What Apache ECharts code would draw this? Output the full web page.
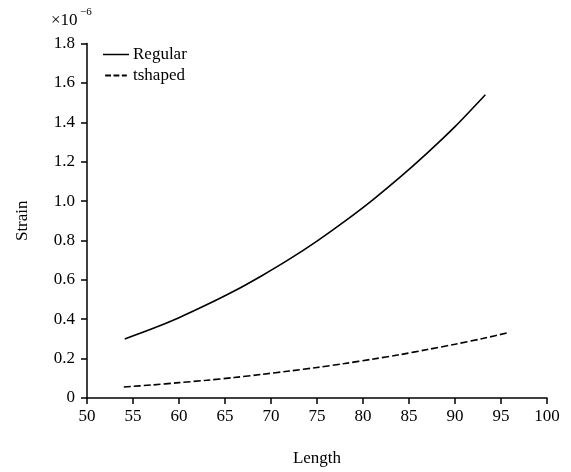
<!DOCTYPE html>
<html>
<head>
<meta charset="utf-8">
<script src="https://cdn.jsdelivr.net/npm/echarts@6/dist/echarts.min.js"></script>
<style>html,body{margin:0;padding:0;background:#fff;}#c{width:571px;height:472px;}</style>
</head>
<body>
<div id="c"></div>
<script>
var seriesNames = ['Regular', 'tshaped'];
var regularX = [54.1, 57, 60, 63, 66, 69, 72, 75, 78, 81, 84, 87, 90, 93.3];
var regularY = [0.300, 0.350, 0.408, 0.473, 0.543, 0.621, 0.705, 0.797, 0.897, 1.004, 1.120, 1.245, 1.378, 1.540];
var tshapedX = [54, 57, 60, 63, 66, 69, 72, 75, 78, 81, 84, 87, 90, 93, 95.9];
var tshapedY = [0.056, 0.066, 0.078, 0.090, 0.104, 0.120, 0.137, 0.155, 0.175, 0.197, 0.220, 0.246, 0.273, 0.302, 0.333];
var xTicks = {min: 50, max: 100, step: 5};
var yTicks = {min: 0, max: 1.8, step: 0.2};

function pairs(xs, ys) { return xs.map(function (x, i) { return [x, ys[i]]; }); }

var font = 'Liberation Serif';
var chart = echarts.init(document.getElementById('c'));
chart.setOption({
  animation: false,
  backgroundColor: '#fff',
  textStyle: {fontFamily: font},
  grid: {left: 87, right: 24, top: 43.5, bottom: 72, containLabel: false},
  legend: {
    orient: 'vertical', left: 98, top: 41, itemWidth: 26, itemHeight: 2, itemGap: 4,
    data: [
      {name: seriesNames[0], icon: 'path://M0 0H26V1.5H0Z'},
      {name: seriesNames[1], icon: 'path://M0 0H7V2.4H0Z M10 0H17V2.4H10Z M20 0H26V2.4H20Z'}
    ],
    itemStyle: {color: '#000'},
    textStyle: {fontFamily: font, fontSize: 17, color: '#000', padding: [0, 0, 0, -1]}
  },
  xAxis: {
    type: 'value', min: xTicks.min, max: xTicks.max, interval: xTicks.step,
    name: 'Length', nameLocation: 'middle', nameGap: 52,
    nameTextStyle: {fontFamily: font, fontSize: 17, color: '#000'},
    axisLine: {show: true, lineStyle: {color: '#000', width: 1.5}},
    axisTick: {show: true, inside: false, length: 6, lineStyle: {color: '#000', width: 1.5}},
    axisLabel: {fontFamily: font, fontSize: 17, color: '#000', margin: 10},
    splitLine: {show: false}
  },
  yAxis: {
    type: 'value', min: yTicks.min, max: yTicks.max, interval: yTicks.step,
    name: 'Strain', nameLocation: 'middle', nameGap: 56,
    nameTextStyle: {fontFamily: font, fontSize: 17, color: '#000'},
    axisLine: {show: true, lineStyle: {color: '#000', width: 1.5}},
    axisTick: {show: true, inside: false, length: 6, lineStyle: {color: '#000', width: 1.5}},
    axisLabel: {fontFamily: font, fontSize: 17, color: '#000', margin: 12,
      formatter: function (v) { return v === 0 ? '0' : v.toFixed(1); }},
    splitLine: {show: false}
  },
  graphic: [
    {type: 'text', left: 51, top: 12, style: {text: '×10', font: '17px "Liberation Serif"', fill: '#000'}},
    {type: 'text', left: 80, top: 7, style: {text: '−6', font: '11px "Liberation Serif"', fill: '#000'}}
  ],
  series: [
    {
      name: seriesNames[0], type: 'line', data: pairs(regularX, regularY), smooth: 0.3,
      showSymbol: false, symbol: 'none',
      lineStyle: {color: '#000', width: 1.6, type: 'solid'},
      itemStyle: {color: '#000'}
    },
    {
      name: seriesNames[1], type: 'line', data: pairs(tshapedX, tshapedY), smooth: 0.3,
      showSymbol: false, symbol: 'none',
      lineStyle: {color: '#000', width: 1.6, type: [7, 3]},
      itemStyle: {color: '#000'}
    }
  ]
});
</script>
</body>
</html>
